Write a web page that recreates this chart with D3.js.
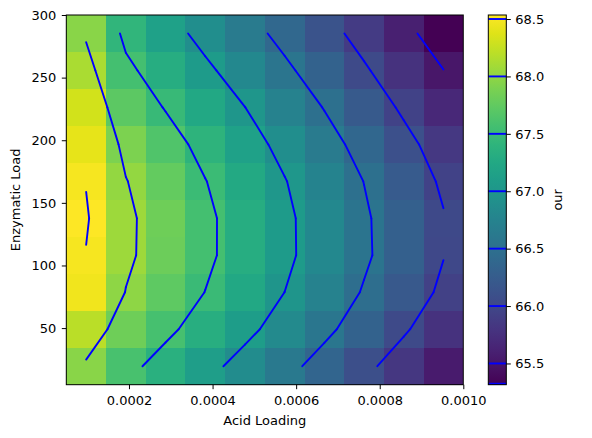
<!DOCTYPE html>
<html>
<head>
<meta charset="utf-8">
<script src="https://cdn.jsdelivr.net/npm/d3@7"></script>
<style>
  body { margin: 0; background: #fff; }
  svg text { font-family: "DejaVu Sans", sans-serif; font-size: 13px; fill: #000; }
</style>
</head>
<body>
<div class="chart"></div>
<script>
// cell centres
const acidLoading = [0.0000975, 0.0001925, 0.0002875, 0.0003825, 0.0004775, 0.0005725, 0.0006675, 0.0007625, 0.0008575, 0.0009525]
const enzymaticLoad = [19.56, 49.08, 78.6, 108.12, 137.64, 167.16, 196.68, 226.2, 255.72, 285.24]

// one row per enzymatic load (bottom -> top), one value per acid loading
const load0 = [67.957, 67.603, 67.357, 67.113, 66.866, 66.615, 66.356, 66.090, 65.821, 65.551]
const load1 = [68.197, 67.830, 67.580, 67.337, 67.095, 66.842, 66.584, 66.316, 66.044, 65.771]
const load2 = [68.460, 67.990, 67.742, 67.495, 67.247, 66.999, 66.736, 66.472, 66.202, 65.933]
const load3 = [68.486, 68.064, 67.818, 67.573, 67.325, 67.075, 66.817, 66.555, 66.293, 66.010]
const load4 = [68.535, 68.069, 67.821, 67.574, 67.324, 67.073, 66.812, 66.548, 66.287, 66.020]
const load5 = [68.486, 68.013, 67.761, 67.510, 67.263, 67.016, 66.756, 66.495, 66.221, 65.947]
const load6 = [68.420, 67.905, 67.645, 67.392, 67.147, 66.897, 66.638, 66.374, 66.104, 65.834]
const load7 = [68.315, 67.726, 67.482, 67.242, 67.003, 66.745, 66.486, 66.215, 65.945, 65.675]
const load8 = [68.129, 67.574, 67.322, 67.070, 66.820, 66.571, 66.310, 66.044, 65.772, 65.505]
const load9 = [67.960, 67.420, 67.147, 66.888, 66.643, 66.393, 66.134, 65.869, 65.598, 65.315]

const xTicks = [0.0002, 0.0004, 0.0006, 0.0008, 0.0010]
const yTicks = [50, 100, 150, 200, 250, 300]
const cbarTicks = [65.5, 66.0, 66.5, 67.0, 67.5, 68.0, 68.5]
const levels = [65.0, 65.5, 66.0, 66.5, 67.0, 67.5, 68.0, 68.5]

const grid = [load0, load1, load2, load3, load4, load5, load6, load7, load8, load9]

const margin = {top: 15, left: 66.3}
const width = 397
const height = 369.7

const svg = d3.select('.chart')
  .append('svg')
    .attr('width', 592)
    .attr('height', 438)

const g = svg.append('g')
    .attr('transform', `translate(${margin.left}, ${margin.top})`)

const dx = acidLoading[1] - acidLoading[0]
const dy = enzymaticLoad[1] - enzymaticLoad[0]

const xScale = d3.scaleLinear()
  .domain([acidLoading[0] - dx / 2, acidLoading[acidLoading.length - 1] + dx / 2])
  .range([0, width])

const yScale = d3.scaleLinear()
  .domain([enzymaticLoad[0] - dy / 2, enzymaticLoad[enzymaticLoad.length - 1] + dy / 2])
  .range([height, 0])

const extent = d3.extent(grid.flat())
const color = d3.scaleSequential(d3.interpolateViridis).domain(extent)

// cells
const cells = []
grid.forEach((row, j) => row.forEach((v, i) => cells.push({i, j, v})))

g.selectAll('.cell')
  .data(cells)
  .enter()
  .append('rect')
    .attr('class', 'cell')
    .attr('x', d => xScale(acidLoading[d.i] - dx / 2))
    .attr('y', d => yScale(enzymaticLoad[d.j] + dy / 2))
    .attr('width', d => xScale(acidLoading[d.i] + dx / 2) - xScale(acidLoading[d.i] - dx / 2))
    .attr('height', d => yScale(enzymaticLoad[d.j] - dy / 2) - yScale(enzymaticLoad[d.j] + dy / 2))
    .attr('fill', d => color(d.v))
    .attr('shape-rendering', 'crispEdges')

// marching squares -> line segments in data space
function segments(level) {
  const segs = []
  for (let j = 0; j < grid.length - 1; j++) {
    for (let i = 0; i < acidLoading.length - 1; i++) {
      const corners = [[i, j], [i + 1, j], [i + 1, j + 1], [i, j + 1]]
      const pts = []
      for (let k = 0; k < 4; k++) {
        const [ia, ja] = corners[k]
        const [ib, jb] = corners[(k + 1) % 4]
        const a = grid[ja][ia], b = grid[jb][ib]
        if ((a < level) !== (b < level)) {
          const t = (level - a) / (b - a)
          pts.push([
            acidLoading[ia] + t * (acidLoading[ib] - acidLoading[ia]),
            enzymaticLoad[ja] + t * (enzymaticLoad[jb] - enzymaticLoad[ja])
          ])
        }
      }
      if (pts.length === 2) segs.push(pts)
      if (pts.length === 4) { segs.push([pts[0], pts[1]]); segs.push([pts[2], pts[3]]) }
    }
  }
  return segs
}

const line = d3.line()
  .x(d => xScale(d[0]))
  .y(d => yScale(d[1]))

g.selectAll('.contour')
  .data(levels.flatMap(segments))
  .enter()
  .append('path')
    .attr('class', 'contour')
    .attr('d', line)
    .attr('fill', 'none')
    .attr('stroke', '#0000ff')
    .attr('stroke-width', 1.9)
    .attr('stroke-linecap', 'round')
    .attr('stroke-linejoin', 'round')

// frame
g.append('rect')
  .attr('width', width)
  .attr('height', height)
  .attr('fill', 'none')
  .attr('stroke', '#000')
  .attr('stroke-width', 1)

// axes
const xAxis = g.append('g')
  .attr('transform', `translate(0, ${height})`)
  .call(d3.axisBottom(xScale).tickValues(xTicks).tickFormat(d3.format('.4f')).tickSize(4.5).tickPadding(4.5))
xAxis.selectAll('text').attr('dy', '0.9em')

const yAxis = g.append('g')
  .call(d3.axisLeft(yScale).tickValues(yTicks).tickSize(4.5).tickPadding(5.5))

;[xAxis, yAxis].forEach(ax => {
  ax.attr('font-family', null).attr('font-size', null)
  ax.select('.domain').remove()
  ax.selectAll('line').attr('stroke', '#000').attr('stroke-width', 1)
})

g.append('text')
  .attr('x', width / 2)
  .attr('y', 409.5)
  .attr('text-anchor', 'middle')
  .text('Acid Loading')

g.append('text')
  .attr('transform', `translate(${19.7 - margin.left}, ${height / 2}) rotate(-90)`)
  .attr('text-anchor', 'middle')
  .text('Enzymatic Load')

// colorbar
const cbar = svg.append('g')
  .attr('transform', `translate(488.3, ${margin.top})`)
const cbarWidth = 18

const cScale = d3.scaleLinear()
  .domain(extent)
  .range([height, 0])
  .clamp(true)

const grad = svg.append('defs')
  .append('linearGradient')
    .attr('id', 'viridis')
    .attr('x1', 0).attr('y1', 1)
    .attr('x2', 0).attr('y2', 0)

grad.selectAll('stop')
  .data(d3.range(0, 1.0001, 0.05))
  .enter()
  .append('stop')
    .attr('offset', d => d)
    .attr('stop-color', d => d3.interpolateViridis(d))

cbar.append('rect')
  .attr('width', cbarWidth)
  .attr('height', height)
  .attr('fill', 'url(#viridis)')

cbar.selectAll('.cline')
  .data(levels)
  .enter()
  .append('line')
    .attr('class', 'cline')
    .attr('x1', 0)
    .attr('x2', cbarWidth)
    .attr('y1', d => cScale(d) - (cScale(d) >= height ? 1 : 0))
    .attr('y2', d => cScale(d) - (cScale(d) >= height ? 1 : 0))
    .attr('stroke', '#0000ff')
    .attr('stroke-width', 1.9)

cbar.append('rect')
  .attr('width', cbarWidth)
  .attr('height', height)
  .attr('fill', 'none')
  .attr('stroke', '#000')
  .attr('stroke-width', 1)

const cAxis = cbar.append('g')
  .attr('transform', `translate(${cbarWidth}, 0)`)
  .call(d3.axisRight(cScale).tickValues(cbarTicks).tickFormat(d3.format('.1f')).tickSize(4.5).tickPadding(4.5))
cAxis.attr('font-family', null).attr('font-size', null)
cAxis.select('.domain').remove()
cAxis.selectAll('line').attr('stroke', '#000').attr('stroke-width', 1)

cbar.append('text')
  .attr('transform', `translate(${561.5 - 488.3}, ${height / 2}) rotate(-90)`)
  .attr('text-anchor', 'middle')
  .text('our')
</script>
</body>
</html>
